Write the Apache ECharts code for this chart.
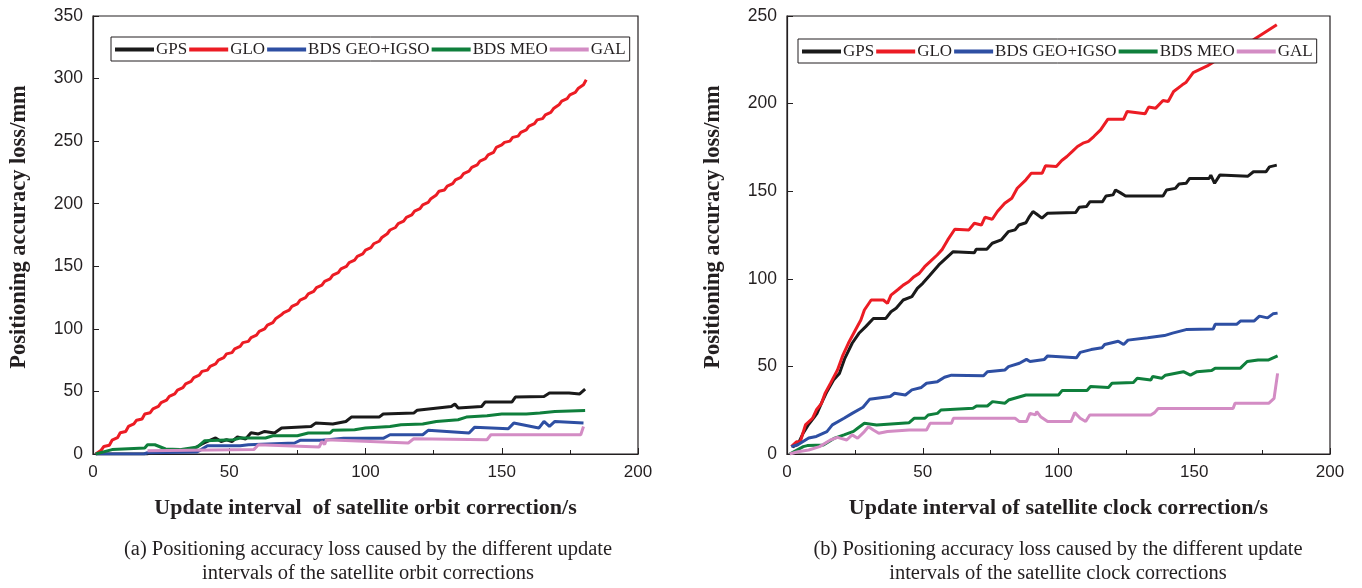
<!DOCTYPE html>
<html><head><meta charset="utf-8">
<script src="https://cdn.jsdelivr.net/npm/echarts@6/dist/echarts.min.js"></script>
<style>html,body{margin:0;padding:0;background:#fff}#c{width:1362px;height:588px}</style>
</head><body><div id="c"></div>
<script>
const seriesNames = ['GPS','GLO','BDS GEO+IGSO','BDS MEO','GAL'];
const colors = ['#1a1a1a','#ec1c24','#2e4fa3','#0f7f3c','#d38cc4'];
const xTicks = [0,50,100,150,200];
const leftYTicks = [0,50,100,150,200,250,300,350];
const rightYTicks = [0,50,100,150,200,250];

// (a) orbit correction update interval
const orbitGPS = [[1,0],[20,0],[22,2],[35,2],[40,8],[42,10],[45,12.8],[47,10],[49,11.4],[51,10],[53,13.6],[56,12],[58,17],[60.7,16],[63,18],[66.6,16.8],[69.2,20.7],[80,22],[81.7,24.7],[88,24],[92.8,26],[94.8,29.5],[105,29.5],[106.5,32],[117.7,32.7],[119,35],[131.5,38],[132.8,39.9],[134,36.7],[142.6,38],[143.9,41.5],[153.7,41.5],[155,45.5],[165.5,46],[167.5,48.7],[174.7,48.7],[178.6,48],[180.6,51.9]];
const orbitGLO = [[1,0],[3,3],[4,6],[6,7],[7,11],[9,13],[10,17],[12,18],[13,22],[15,24],[16,27],[18,28],[19,32],[21,33],[22,36],[24,38],[25,41],[27,43],[28,46],[30,48],[31,51],[33,53],[34,56],[36,58],[37,61],[39,63],[40,66],[42,67],[43,70],[45,72],[46,75],[48,77],[49,80],[51,81],[52,84],[54,86],[55,89],[57,90],[58,93],[60,95],[61,98],[63,100],[64,103],[66,105],[67,108],[69,111],[70,113],[72,115],[73,118],[75,120],[76,123],[78,125],[79,128],[81,130],[82,133],[84,135],[85,138],[87,140],[88,143],[90,145],[91,148],[93,150],[94,153],[96,155],[97,158],[99,160],[100,163],[102,165],[103,168],[105,170],[106,173],[108,176],[109,179],[111,181],[112,184],[114,186],[115,189],[117,191],[118,194],[120,196],[121,199],[123,201],[124,204],[126,207],[127,210],[129,211],[130,214],[132,216],[133,219],[135,221],[136,224],[138,226],[139,229],[141,231],[142,234],[144,236],[145,239],[147,241],[148,245],[150,247],[151,249],[153,250],[154,253],[156,254],[157,257],[159,259],[160,262],[162,264],[163,267],[165,268],[166,271],[168,273],[169,276],[171,279],[172,282],[174,284],[175,287],[177,289],[178,292],[180,295],[181,299]];
const orbitBDSGEO = [[1,0],[18.7,0],[20,1],[38,1.5],[39.7,3.5],[42,6.6],[54,6.6],[57,7.4],[74,8.8],[76,10.9],[84,10.9],[92,12.5],[106.5,12.5],[109,15.4],[121,15.4],[123,18.9],[138,16.8],[140,21.3],[152.4,20.2],[154.4,24.7],[163.6,20.7],[165.5,26],[167.5,22],[169.5,26],[180,24.7]];
const orbitBDSMEO = [[1,0],[7,3.5],[19,4.8],[20,7.4],[22.7,7.4],[26.6,4],[31.8,3.5],[38.4,5.6],[41,10.6],[51.5,11.4],[54,12.8],[63.3,12.8],[66,14.6],[75,14.6],[79,16.8],[87,16.8],[88,18.9],[96,19.4],[100,20.7],[109,22],[113,23.4],[121,23.9],[126,26],[134,27.4],[137,29.5],[144.6,30.6],[150,32],[159,32],[164,32.7],[169.5,34],[180.6,34.8]];
const orbitGAL = [[20,2.5],[59,3.5],[60.7,7.4],[83,5.6],[84,10],[85,7.5],[85.6,11.4],[115.7,8.8],[117.7,12.2],[144.6,11.4],[146,15.4],[179,15.4],[180,22]];

// (b) clock correction update interval
const clockGPS = [[2,4],[4,5.5],[6,12],[8,17],[10,21],[11,23],[13,30],[14.7,35.6],[17.3,42.6],[19.3,46],[21.3,54.6],[24,63.2],[26.5,68.9],[29,72.7],[31.8,77.4],[36.4,77.4],[38.3,81.2],[40.2,83.2],[42.8,87.9],[46,89.8],[48,94.5],[50,97.4],[52.7,102.2],[55.9,107.9],[58.5,111.7],[61.2,115.5],[69,114.9],[69.7,116.8],[73.6,116.8],[75.6,120.3],[78.9,122.2],[81.5,126.9],[84,127.9],[85.4,130.7],[88,132],[89.3,135.5],[90.6,138.4],[91.9,137],[93.9,134.6],[95.9,137.4],[106.3,137.8],[107.6,140.8],[110.3,141.2],[111.6,144],[116.2,144],[117.5,147.3],[120.1,147.9],[121,150.7],[122.7,149.2],[124.7,147.3],[138.5,147.3],[139.8,150.7],[143,151.6],[144.4,154.1],[147,154.5],[148.3,157.3],[155.5,157.3],[156.1,159.2],[157.5,154.5],[159.4,159.2],[169.8,158.6],[171.8,161.1],[176.4,161.1],[177.7,163.9],[180.4,164.9]];
const clockGLO = [[1.6,4.2],[3.5,7],[4.9,7],[6.8,16.6],[9.4,20.4],[10.8,25.1],[12.7,28.9],[14,34.6],[16,40.3],[18.6,48],[20.6,56.5],[22.6,63.2],[25.2,70.8],[27.2,76.5],[28.5,82.2],[31,87.9],[35.5,87.9],[37,86],[38.3,90.7],[40.9,93.9],[42.8,96.4],[44.8,98.3],[46.8,101.2],[48.7,103.1],[50.7,106.9],[52.7,109.8],[55.3,113.6],[57.2,116.8],[59.2,122.2],[61.8,128.3],[67,127.9],[69,131.7],[71.6,130.7],[72.9,135.1],[75.6,134],[77.5,138.4],[80.2,143.1],[82.8,146],[84.8,151.7],[88,156.5],[90,160.3],[94,160.3],[95.2,164.5],[99.2,164.1],[101.2,167.5],[103.1,169.8],[105.1,172.7],[107,175.5],[109,177.4],[111,178.4],[113,181.2],[115.5,185],[118.2,191.1],[124,191.1],[125.3,195.5],[131.9,194.2],[133.2,198],[135.8,197.4],[138.5,201.8],[140.4,201.2],[142.4,206.9],[145.6,210.7],[146.9,212],[149.6,217.7],[154.8,221.5],[157.4,224],[164,229.2],[171.8,236.4],[180.4,245]];
const clockBDSGEO = [[1.6,4.2],[4,5.3],[8,9.1],[10.8,10],[14.7,12.8],[16.7,16.6],[21,20.4],[24,23.2],[28,26.7],[30.4,31.2],[38,32.8],[39.6,34.7],[43.6,33.7],[46,36.6],[49.5,38],[51.4,40.4],[55.4,41.3],[58,43.8],[60.6,45],[72.4,44.6],[73.8,47],[80.3,48],[81.6,49.9],[85.6,51.8],[88.2,54],[89.5,52.8],[94.8,54],[96,56],[106.6,54.9],[108,58],[112,59.6],[116,60.6],[117,62.5],[122,64.4],[124,62.5],[125.6,65],[132.8,66.3],[139,67.6],[142,69],[147,71],[157,71.4],[157.7,74],[165.6,74],[167,75.9],[172,75.9],[174,78.7],[177,77.7],[179,80],[180.7,80.4]];
const clockBDSMEO = [[1,0],[6,4.2],[7.5,4.8],[13.4,5.1],[17.3,8.9],[21,10.9],[24.5,12.9],[26,14.7],[28.5,17.5],[33,16.6],[45,17.9],[46.8,20.4],[50.8,20.4],[52,22.3],[55.4,23.2],[56.7,25.1],[68.5,26.1],[69.8,27.4],[73.8,27.4],[75.7,29.9],[80.3,29],[81.6,30.8],[88,33.7],[100,33.7],[101.3,36.2],[110.5,36.2],[111.8,38.5],[118.4,38],[119.7,40.4],[127.6,40.8],[129,43.2],[134,42.3],[134.7,44.2],[138,43.2],[139.4,45],[146,47],[148.6,45],[151,47],[156.4,47.6],[157.7,49],[167,49],[169.5,52.8],[173.5,53.7],[177.4,53.7],[180.7,56]];
const clockGAL = [[1,0],[4,1.3],[8,2.3],[12,4.2],[16,8],[18.6,9.5],[22,8],[24,10.9],[26,9],[28.5,12.8],[30,15.6],[31.8,13.7],[33.8,11.8],[37,12.8],[45,13.7],[51.4,13.7],[52.7,17.5],[60.6,17.5],[61.3,20.4],[84,20.4],[85.6,18.5],[88.2,18.5],[89.5,23.2],[91.5,22.3],[92,24.2],[93.4,21.3],[96,18.5],[104.6,18.5],[106,23.6],[108,20.4],[110,18.5],[111.5,22.3],[134,22.3],[135.4,23.6],[136.7,26],[164.3,26],[165,28.9],[177.4,28.9],[179.4,31.8],[180.7,46]];

const orbitSets = [orbitGPS, orbitGLO, orbitBDSGEO, orbitBDSMEO, orbitGAL];
const clockSets = [clockGPS, clockGLO, clockBDSGEO, clockBDSMEO, clockGAL];

const SERIF = '"Liberation Serif","DejaVu Serif",serif';
const SANS = '"Liberation Sans",Arial,sans-serif';
const INK = '#231f20';

function xAx(gi, name){
  return {gridIndex:gi, type:'value', min:xTicks[0], max:xTicks[xTicks.length-1], interval:50,
    name:name, nameLocation:'middle', nameGap:43,
    nameTextStyle:{fontFamily:SERIF, fontWeight:'bold', fontSize:22, color:INK},
    axisLine:{show:true, onZero:false, lineStyle:{color:INK, width:1.2}},
    axisTick:{show:true, inside:true, length:6, lineStyle:{color:INK}},
    minorTick:{show:true, splitNumber:2, length:4, lineStyle:{color:INK}},
    axisLabel:{fontFamily:SANS, fontSize:17, color:INK, margin:10},
    splitLine:{show:false}};
}
function yAx(gi, ticks){
  return {gridIndex:gi, type:'value', min:ticks[0], max:ticks[ticks.length-1], interval:50,
    name:'Positioning accuracy loss/mm', nameLocation:'middle', nameGap:62,
    nameTextStyle:{fontFamily:SERIF, fontWeight:'bold', fontSize:22.5, color:INK, padding:[0,0,0,16]},
    axisLine:{show:true, onZero:false, lineStyle:{color:INK, width:1.2}},
    axisTick:{show:true, inside:true, length:6, lineStyle:{color:INK}},
    axisLabel:{fontFamily:SANS, fontSize:17.5, color:INK, margin:10},
    splitLine:{show:false}};
}
function legendFor(left, top){
  return {left:left, top:top, width:600, orient:'horizontal', data:seriesNames,
    icon:'rect', itemWidth:39, itemHeight:4, itemGap:2,
    backgroundColor:'#fff', borderColor:INK, borderWidth:1, borderRadius:0,
    padding:[4,4,3,4], z:10,
    textStyle:{fontFamily:SERIF, fontSize:17, color:INK, padding:[0,0,0,-3]}};
}

const series = [];
[orbitSets, clockSets].forEach((sets, gi)=>{
  sets.forEach((d, i)=>{
    series.push({name:seriesNames[i], type:'line', xAxisIndex:gi, yAxisIndex:gi, data:d,
      showSymbol:false, symbol:'none', legendIndex:gi, animation:false,
      lineStyle:{color:colors[i], width:3}, itemStyle:{color:colors[i]}, z:2+i});
  });
});

const chart = echarts.init(document.getElementById('c'));
chart.setOption({
  backgroundColor:'#fff',
  animation:false,
  grid:[
    {left:93, right:1362-638, top:16, bottom:588-454, show:true, borderColor:INK, borderWidth:1.2, containLabel:false},
    {left:787, right:1362-1330, top:16, bottom:588-454, show:true, borderColor:INK, borderWidth:1.2, containLabel:false}
  ],
  xAxis:[xAx(0,'Update interval  of satellite orbit correction/s'), xAx(1,'Update interval of satellite clock correction/s')],
  yAxis:[yAx(0,leftYTicks), yAx(1,rightYTicks)],
  legend:[legendFor(111,37), legendFor(798,39)],
  series: series,
  graphic:[
    {type:'text', x:368, y:550, style:{text:'(a) Positioning accuracy loss caused by the different update', fontFamily:SERIF, fontSize:20.5, fill:INK, textAlign:'center', textVerticalAlign:'middle'}},
    {type:'text', x:368, y:574, style:{text:'intervals of the satellite orbit corrections', fontFamily:SERIF, fontSize:20.5, fill:INK, textAlign:'center', textVerticalAlign:'middle'}},
    {type:'text', x:1058, y:550, style:{text:'(b) Positioning accuracy loss caused by the different update', fontFamily:SERIF, fontSize:20.5, fill:INK, textAlign:'center', textVerticalAlign:'middle'}},
    {type:'text', x:1058, y:574, style:{text:'intervals of the satellite clock corrections', fontFamily:SERIF, fontSize:20.5, fill:INK, textAlign:'center', textVerticalAlign:'middle'}}
  ]
});
</script></body></html>
